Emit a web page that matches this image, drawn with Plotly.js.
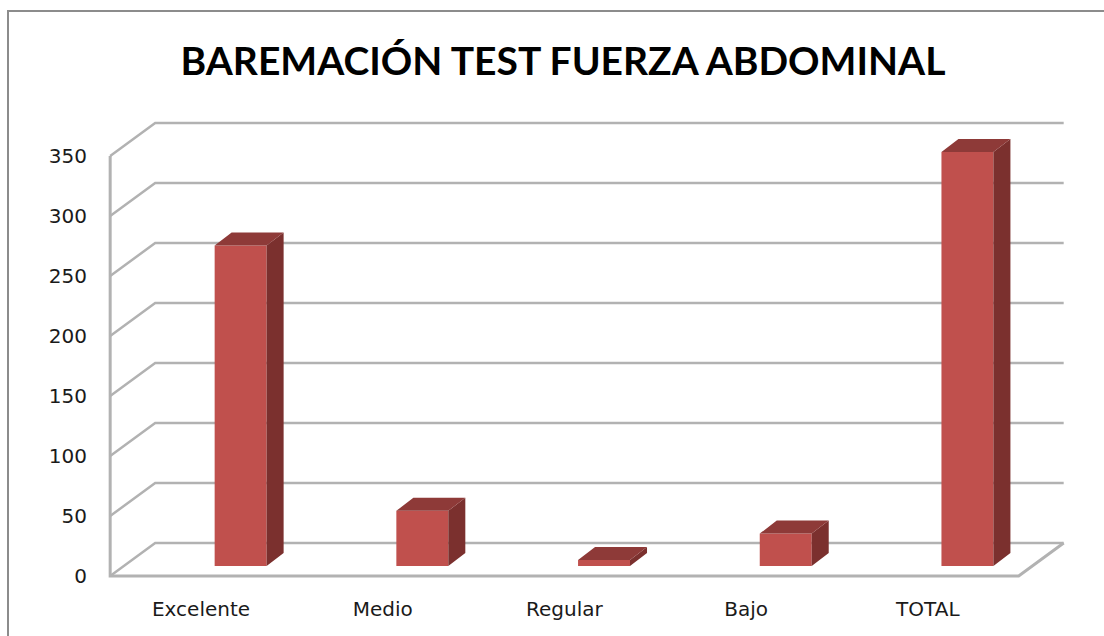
<!DOCTYPE html>
<html>
<head>
<meta charset="utf-8">
<script src="https://cdn.plot.ly/plotly-3.0.1.min.js"></script>
<style>html,body{margin:0;padding:0;background:#fff}#chart{width:1104px;height:636px}</style>
</head>
<body>
<div id="chart"></div>
<script>
const categories = ["Excelente", "Medio", "Regular", "Bajo", "TOTAL"];
const values = [267, 46, 5, 27, 345];
const yTicks = [0, 50, 100, 150, 200, 250, 300, 350];
const chartTitle = "BAREMACIÓN TEST FUERZA ABDOMINAL";

// Pseudo-3D geometry, in axis units
const wallDx = 0.2477, wallDy = 27.5;
const barShift = 0.218, barWidth = 0.286, barBase = 8.33;
const barDx = 0.0936, barDy = 10.83;
const xLeft = -0.5, xRight = 4.5;

const idx = categories.map((_, i) => i);
const barX = idx.map(i => i + barShift);

const sideX = [], sideY = [], topX = [], topY = [];
values.forEach((v, i) => {
  const l = barX[i] - barWidth / 2, r = barX[i] + barWidth / 2, t = barBase + v;
  sideX.push(r, r + barDx, r + barDx, r, r, null);
  sideY.push(barBase, barBase + barDy, t + barDy, t, barBase, null);
  topX.push(l, l + barDx, r + barDx, r, l, null);
  topY.push(t, t + barDy, t + barDy, t, t, null);
});

const gridStyle = {color: "#b2b2b2", width: 2.5};
const shapes = yTicks.map(v => ({
  type: "path", layer: "below", xref: "x", yref: "y",
  path: `M${xLeft},${v} L${xLeft + wallDx},${v + wallDy} L${xRight + wallDx},${v + wallDy}`,
  line: gridStyle
}));
shapes.push({
  type: "path", layer: "below", xref: "x", yref: "y",
  path: `M${xLeft},${yTicks[yTicks.length - 1]} L${xLeft},0 L${xRight},0 L${xRight + wallDx},${wallDy}`,
  line: {color: "#b2b2b2", width: 3}
});
const frameBase = {
  type: "line", layer: "below", xref: "paper", yref: "paper",
  xsizemode: "pixel", ysizemode: "pixel", xanchor: 0, yanchor: 1,
  line: {color: "#8c8c8c", width: 2}
};
shapes.push(Object.assign({}, frameBase, {x0: -84, x1: 1012, y0: 103, y1: 103}));
shapes.push(Object.assign({}, frameBase, {x0: -84, x1: -84, y0: 104, y1: -522}));

const traces = [
  {type: "bar", x: barX, y: values, base: barBase, width: barWidth,
   marker: {color: "#C0504D", line: {width: 0}}, hoverinfo: "skip", showlegend: false},
  {type: "scatter", mode: "lines", x: sideX, y: sideY, fill: "toself", fillcolor: "#7B302E",
   line: {width: 0, color: "#7B302E"}, hoverinfo: "skip", showlegend: false},
  {type: "scatter", mode: "lines", x: topX, y: topY, fill: "toself", fillcolor: "#8E3A38",
   line: {width: 0, color: "#8E3A38"}, hoverinfo: "skip", showlegend: false}
];

const layout = {
  width: 1104, height: 636,
  margin: {l: 92, r: 36, t: 114, b: 54},
  paper_bgcolor: "#fff", plot_bgcolor: "rgba(0,0,0,0)",
  showlegend: false,
  title: {text: chartTitle, x: 563 / 1104, xanchor: "center", y: 1 - 61 / 636, yanchor: "middle",
          font: {family: "Lato, sans-serif", size: 39, color: "#000", weight: 700}},
  xaxis: {range: [-0.6, 4.7715], tickmode: "array", tickvals: idx, ticktext: categories,
          showgrid: false, zeroline: false, showline: false, ticks: "", ticklabelstandoff: 13,
          tickfont: {family: "DejaVu Sans", size: 20, color: "#1a1a1a"}, fixedrange: true},
  yaxis: {range: [-5, 385], tickmode: "array", tickvals: yTicks,
          showgrid: false, zeroline: false, showline: false, ticks: "", ticklabelstandoff: 4,
          tickfont: {family: "DejaVu Sans", size: 20, color: "#1a1a1a"}, fixedrange: true},
  shapes: shapes
};
Plotly.newPlot("chart", traces, layout, {displayModeBar: false, staticPlot: true});
</script>
</body>
</html>
